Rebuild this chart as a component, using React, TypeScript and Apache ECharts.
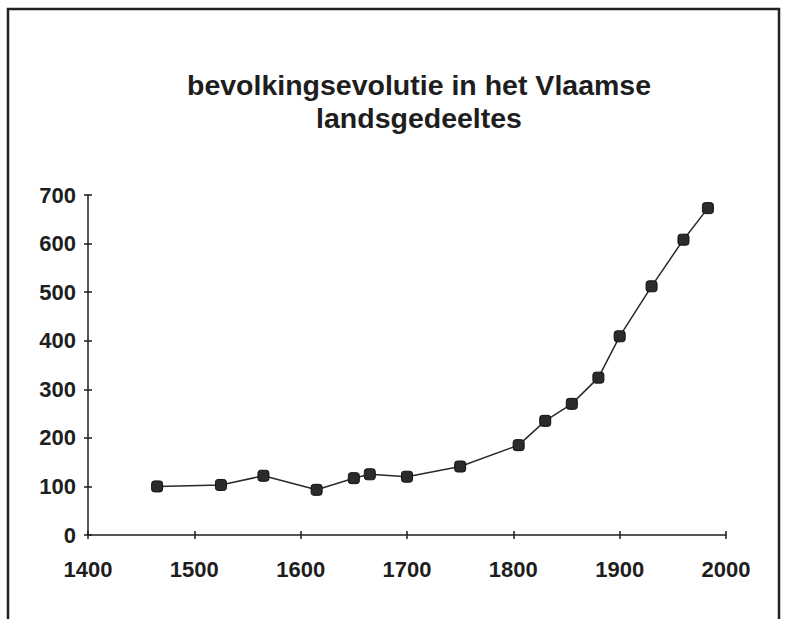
import React, { useEffect, useRef } from "react";
import * as echarts from "echarts";

const titleLines = ["bevolkingsevolutie in het Vlaamse", "landsgedeeltes"];
const years = [1465, 1525, 1565, 1615, 1650, 1665, 1700, 1750, 1805, 1830, 1855, 1880, 1900, 1930, 1960, 1983];
const population = [100, 103, 122, 93, 117, 125, 120, 141, 185, 235, 270, 324, 409, 512, 608, 673];
const xRange = [1400, 2000];
const yRange = [0, 700];

export default function App() {
  const ref = useRef<HTMLDivElement>(null);
  useEffect(() => {
    if (!ref.current) return;
    const chart = echarts.init(ref.current, null, { renderer: "svg" });
    const ink = "#1e1e1e";
    const labelFont = {
      fontFamily: "'Liberation Sans', Arial, sans-serif",
      fontSize: 22,
      fontWeight: "bold",
      color: ink,
    };
    const fmt = (v: number) => String(v);
    const data = years.map((y, i) => [y, population[i]]);
    chart.setOption({
      animation: false,
      backgroundColor: "#ffffff",
      title: {
        text: titleLines.join("\n"),
        left: 414,
        top: 63,
        textAlign: "center",
        textStyle: {
          fontFamily: "Liberation Sans, Arial, sans-serif",
          fontWeight: "bold",
          fontSize: 28.5,
          lineHeight: 33,
          color: ink,
        },
      },
      grid: { left: 88, right: 59, top: 195, bottom: 84 },
      xAxis: [
        {
          type: "value",
          position: "bottom",
          min: xRange[0],
          max: xRange[1],
          interval: 100,
          splitLine: { show: false },
          axisLine: { lineStyle: { color: ink, width: 1.5 } },
          axisTick: { show: true, inside: false, length: 4, lineStyle: { color: ink, width: 1.5 } },
          axisLabel: { ...labelFont, margin: 23, formatter: fmt },
        },
        {
          type: "value",
          position: "bottom",
          min: xRange[0],
          max: xRange[1],
          interval: 100,
          splitLine: { show: false },
          axisLine: { show: false },
          axisTick: { show: true, inside: true, length: 4, lineStyle: { color: ink, width: 1.5 } },
          axisLabel: { show: false },
        },
      ],
      yAxis: [
        {
          type: "value",
          position: "left",
          min: yRange[0],
          max: yRange[1],
          interval: 100,
          splitLine: { show: false },
          axisLine: { show: true, lineStyle: { color: ink, width: 1.5 } },
          axisTick: { show: true, inside: false, length: 4, lineStyle: { color: ink, width: 1.5 } },
          axisLabel: { ...labelFont, margin: 12, formatter: fmt },
        },
        {
          type: "value",
          position: "left",
          min: yRange[0],
          max: yRange[1],
          interval: 100,
          splitLine: { show: false },
          axisLine: { show: false },
          axisTick: { show: true, inside: true, length: 4, lineStyle: { color: ink, width: 1.5 } },
          axisLabel: { show: false },
        },
      ],
      graphic: [
        {
          type: "polyline",
          shape: { points: [[8, 619], [8, 9], [779, 9], [779, 619]] },
          style: { stroke: "#222", lineWidth: 2.5, fill: "none" },
        },
      ],
      series: [
        {
          type: "line",
          data,
          xAxisIndex: 0,
          yAxisIndex: 0,
          symbol: "roundRect",
          symbolSize: 11,
          lineStyle: { color: "#2a2a2a", width: 1.5 },
          itemStyle: { color: "#2b2b2b", borderColor: "#111", borderWidth: 1 },
        },
      ],
    });
    return () => chart.dispose();
  }, []);
  return (
    <div
      ref={ref}
      style={{ position: "fixed", left: 0, top: 0, width: 785, height: 619 }}
    />
  );
}
